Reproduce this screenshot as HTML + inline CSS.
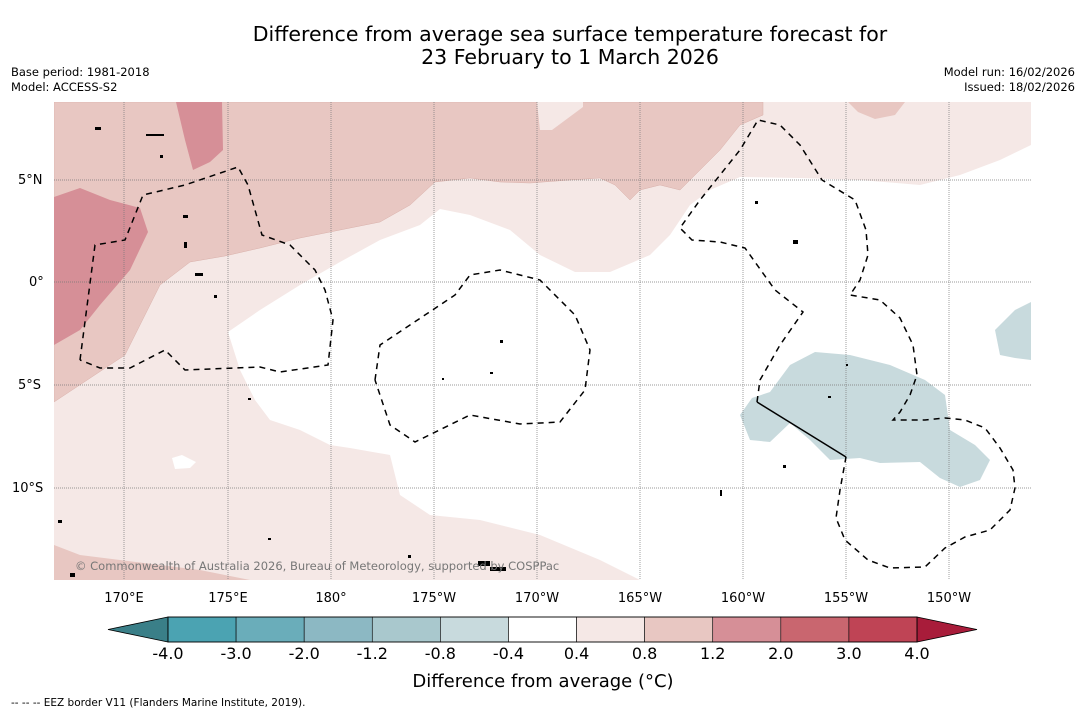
<!DOCTYPE html>
<html><head><meta charset="utf-8">
<style>
body{margin:0;background:#fff;}
svg{display:block;font-family:"DejaVu Sans","Liberation Sans",sans-serif;}
</style></head>
<body>
<svg id="chart" width="1085" height="713" viewBox="0 0 1085 713">
<rect width="1085" height="713" fill="#fff"/>
<text x="570" y="41" text-anchor="middle" font-size="20.5">Difference from average sea surface temperature forecast for</text>
<text x="570" y="64" text-anchor="middle" font-size="20.5">23 February to 1 March 2026</text>
<text x="11" y="76" font-size="11.5">Base period: 1981-2018</text>
<text x="11" y="91" font-size="11.5">Model: ACCESS-S2</text>
<text x="1075" y="76" font-size="11.5" text-anchor="end">Model run: 16/02/2026</text>
<text x="1075" y="91" font-size="11.5" text-anchor="end">Issued: 18/02/2026</text>

<defs><clipPath id="mc"><rect x="54" y="102" width="977" height="478"/></clipPath></defs>
<g clip-path="url(#mc)">
<rect x="54" y="102" width="977" height="478" fill="#f5e8e6"/>
<polygon fill="#e8c7c2" stroke="#d9b0aa" stroke-width="0.5" points="54,102 763,102 763,115 740,125 720,150 700,170 680,190 660,185 640,190 630,200 615,185 600,178 570,180 530,183 500,182 470,178 435,182 410,205 380,222 340,230 300,238 260,248 225,256 190,262 160,285 125,355 54,402"/>
<polygon fill="#f5e8e6" points="537,102 583,102 583,107 552,130 540,130"/>
<polygon fill="#e8c7c2" points="848,102 905,102 895,115 875,119 858,112"/>
<polygon fill="#e8c7c2" points="54,545 80,555 120,560 160,565 200,570 250,580 54,580"/>
<polygon fill="#d68f97" points="54,197 80,188 110,200 140,208 148,232 130,270 100,305 80,330 54,345"/>
<polygon fill="#d68f97" points="176,102 222,102 223,150 210,162 193,170 185,140"/>
<polygon fill="#ffffff" points="228,332 260,310 300,285 340,262 380,240 420,225 440,209 470,215 510,230 540,255 575,272 610,272 650,255 670,235 690,205 710,190 740,177 800,178 860,180 920,185 960,175 1000,160 1031,145 1031,580 640,580 600,560 540,535 480,520 430,515 400,495 390,455 350,448 330,445 300,430 270,420 255,400 240,370"/>
<polygon fill="#fff" points="172,458 182,455 196,462 190,468 175,469"/>
<polygon fill="#c8dadd" points="740,415 752,398 770,392 790,365 815,352 850,355 890,365 925,380 945,395 950,430 975,445 990,460 980,480 960,487 940,478 920,462 880,463 860,458 830,460 810,440 790,423 770,442 750,440"/>
<polygon fill="#c8dadd" points="995,330 1015,310 1031,302 1031,360 1015,358 1000,355"/>
<g stroke="#777" stroke-width="0.7" stroke-dasharray="1,1">
<line x1="124" y1="102" x2="124" y2="580"/><line x1="228" y1="102" x2="228" y2="580"/><line x1="331" y1="102" x2="331" y2="580"/><line x1="434" y1="102" x2="434" y2="580"/><line x1="537" y1="102" x2="537" y2="580"/><line x1="640" y1="102" x2="640" y2="580"/><line x1="743" y1="102" x2="743" y2="580"/><line x1="846" y1="102" x2="846" y2="580"/><line x1="949" y1="102" x2="949" y2="580"/>
<line x1="54" y1="180" x2="1031" y2="180"/><line x1="54" y1="282" x2="1031" y2="282"/><line x1="54" y1="385" x2="1031" y2="385"/><line x1="54" y1="488" x2="1031" y2="488"/>
</g>
<g fill="none" stroke="#000" stroke-width="1.5" stroke-dasharray="6,5">
<polyline points="80,360 95,245 125,240 143,195 185,185 238,167 248,185 262,235 290,245 315,270 325,290 333,320 328,365 280,372 260,367 185,370 165,350 130,368 100,368 80,360"/>
<polyline points="375,380 380,345 410,325 455,295 470,275 500,270 540,280 575,315 590,350 585,390 560,422 520,424 470,415 415,442 390,425 375,380"/>
<polyline points="757,402 760,380 780,345 803,312 775,290 745,248 720,242 692,240 680,228 700,200 720,175 740,150 758,120 780,125 800,145 822,180 855,200 866,230 868,255 860,280 850,295 880,300 900,318 913,345 917,375 910,395 900,412 893,420 925,420 945,418 965,420 985,428 1000,448 1013,470 1015,488 1010,510 990,530 965,537 945,548 925,567 890,568 868,560 845,540 836,518 840,490 846,457"/>
</g>
<polyline points="757,402 846,457" fill="none" stroke="#000" stroke-width="1.5"/>
<g fill="#000">
<rect x="146" y="134" width="18" height="2"/><rect x="183" y="215" width="5" height="3"/><rect x="184" y="242" width="3" height="6"/><rect x="195" y="273" width="8" height="3"/><rect x="214" y="295" width="3" height="3"/><rect x="755" y="201" width="3" height="3"/><rect x="793" y="240" width="5" height="4"/><rect x="500" y="340" width="3" height="3"/><rect x="490" y="372" width="3" height="2"/><rect x="442" y="378" width="2" height="2"/><rect x="783" y="465" width="3" height="3"/><rect x="720" y="490" width="2" height="6"/><rect x="58" y="520" width="4" height="3"/><rect x="478" y="561" width="12" height="5"/><rect x="490" y="567" width="16" height="4"/><rect x="70" y="573" width="5" height="4"/><rect x="408" y="555" width="3" height="3"/><rect x="268" y="538" width="3" height="2"/><rect x="95" y="127" width="6" height="3"/><rect x="160" y="155" width="3" height="3"/><rect x="248" y="398" width="3" height="2"/><rect x="828" y="396" width="3" height="2"/><rect x="846" y="364" width="2" height="2"/></g>
<text x="75" y="570" font-size="11.5" fill="#777">© Commonwealth of Australia 2026, Bureau of Meteorology, supported by COSPPac</text>
</g>
<g font-size="13">
<text x="18" y="184">5°N</text>
<text x="29" y="286">0°</text>
<text x="18" y="389">5°S</text>
<text x="12" y="492">10°S</text>
<g text-anchor="middle">
<text x="124" y="602">170°E</text><text x="228" y="602">175°E</text><text x="331" y="602">180°</text><text x="434" y="602">175°W</text><text x="537" y="602">170°W</text><text x="640" y="602">165°W</text><text x="743" y="602">160°W</text><text x="846" y="602">155°W</text><text x="949" y="602">150°W</text>
</g></g>
<g id="cbar"></g>
<text x="543" y="687" text-anchor="middle" font-size="18">Difference from average (°C)</text>
<text x="11" y="706" font-size="10.5">-- -- -- EEZ border V11 (Flanders Marine Institute, 2019).</text>
</svg>
<script>
const levels = ["-4.0","-3.0","-2.0","-1.2","-0.8","-0.4","0.4","0.8","1.2","2.0","3.0","4.0"];
const binColors = ["#4ba3b2","#6aadba","#8cb8c3","#a9c8cd","#c8dadd","#ffffff","#f5e8e6","#e8c7c2","#d68f97","#c9666f","#bf4455"];
const extendColors = ["#3a7f88","#a81c3a"];
const NS="http://www.w3.org/2000/svg";
const g=document.getElementById('cbar');
const x0=168,x1=917,y0=617,h=25,w=(x1-x0)/binColors.length;
function xs(i){return x0+i*w;}
function mk(t,a){const e=document.createElementNS(NS,t);for(const k in a)e.setAttribute(k,a[k]);g.appendChild(e);return e;}
let l=mk('polygon',{points:`108,${y0+h/2} ${x0},${y0} ${x0},${y0+h}`,fill:extendColors[0],stroke:'#000','stroke-width':0.8});


let r=mk('polygon',{points:`${x1},${y0} 977,${y0+h/2} ${x1},${y0+h}`,fill:extendColors[1],stroke:'#000','stroke-width':0.8});


binColors.forEach((c,i)=>{
  const b=mk('rect',{x:xs(i),y:y0,width:w,height:h,fill:c,stroke:'#000','stroke-width':0.6});
  
  
});
mk('rect',{x:x0,y:y0,width:x1-x0,height:h,fill:'none',stroke:'#000','stroke-width':0.8});
levels.forEach((t,i)=>{
  const e=mk('text',{x:xs(i),y:659,'text-anchor':'middle','font-size':16});
  e.textContent=t;
  
  
});
</script>
</body></html>
